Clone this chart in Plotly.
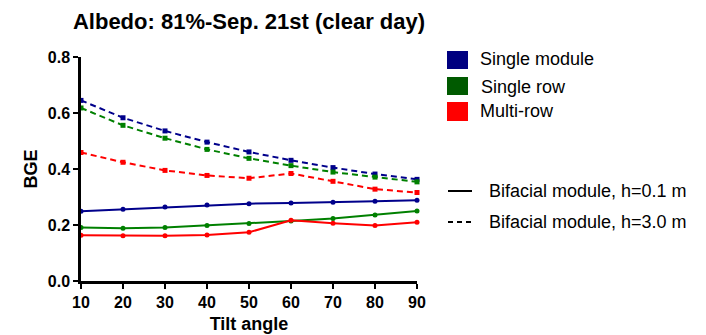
import plotly.graph_objects as go

tilt = [10, 20, 30, 40, 50, 60, 70, 80, 90]

single_module_h01 = [0.249, 0.256, 0.264, 0.271, 0.276, 0.279, 0.281, 0.285, 0.288]
single_row_h01 = [0.191, 0.188, 0.191, 0.198, 0.205, 0.214, 0.223, 0.236, 0.250]
multi_row_h01 = [0.163, 0.162, 0.162, 0.164, 0.174, 0.217, 0.206, 0.198, 0.210]

single_module_h30 = [0.645, 0.583, 0.536, 0.496, 0.461, 0.431, 0.405, 0.382, 0.363]
single_row_h30 = [0.618, 0.556, 0.510, 0.470, 0.438, 0.412, 0.389, 0.371, 0.354]
multi_row_h30 = [0.459, 0.424, 0.395, 0.377, 0.367, 0.384, 0.356, 0.328, 0.316]

series_names = ["Single module", "Single row", "Multi-row"]
line_colors = ["#00008B", "#008000", "#FF0000"]
patch_colors = ["#000080", "#005A00", "#FF0000"]
style_labels = ["Bifacial module, h=0.1 m", "Bifacial module, h=3.0 m"]

W, H = 706, 335
L, R, T, B = 81, 417, 57, 281
FONT = "Liberation Sans, Arial"

fig = go.Figure()
solid = [single_module_h01, single_row_h01, multi_row_h01]
dashed = [single_module_h30, single_row_h30, multi_row_h30]
for vals, col in zip(solid, line_colors):
    fig.add_trace(go.Scatter(x=tilt, y=vals, mode="lines+markers",
                             line=dict(color=col, width=2),
                             marker=dict(symbol="circle", size=5, color=col),
                             cliponaxis=False, showlegend=False))
for vals, col in zip(dashed, line_colors):
    fig.add_trace(go.Scatter(x=tilt, y=vals, mode="lines+markers",
                             line=dict(color=col, width=2, dash="6px,4px"),
                             marker=dict(symbol="square", size=5, color=col),
                             cliponaxis=False, showlegend=False))


def px_x(px):
    return (px - L) / (R - L)


def px_y(py):
    return (B - py) / (B - T)


shapes = []
annotations = []
patch_y = [(51, 69), (77, 95), (102, 121)]
text_y = [59, 87, 111]
text_x = [478, 479, 478]
for name, col, (y0, y1), ty, tx in zip(series_names, patch_colors, patch_y, text_y, text_x):
    shapes.append(dict(type="rect", xref="paper", yref="paper",
                       x0=px_x(447), x1=px_x(468), y0=px_y(y1), y1=px_y(y0),
                       fillcolor=col, line=dict(width=0)))
    annotations.append(dict(text=name, xref="paper", yref="paper",
                            x=px_x(tx), y=px_y(ty), xanchor="left", yanchor="middle",
                            showarrow=False,
                            font=dict(family=FONT, size=18, color="black")))

for lab, dash, ly in zip(style_labels, ["solid", "5px,4px"], [191, 222]):
    shapes.append(dict(type="line", xref="paper", yref="paper",
                       x0=px_x(448), x1=px_x(472), y0=px_y(ly), y1=px_y(ly),
                       line=dict(color="black", width=2, dash=dash)))
    annotations.append(dict(text=lab, xref="paper", yref="paper",
                            x=px_x(487), y=px_y(ly), xanchor="left", yanchor="middle",
                            showarrow=False,
                            font=dict(family=FONT, size=18, color="black")))

fig.update_layout(
    width=W, height=H,
    margin=dict(l=L, r=W - R, t=T, b=H - B, autoexpand=False),
    paper_bgcolor="white", plot_bgcolor="white",
    title=dict(text="<b>Albedo: 81%-Sep. 21st (clear day)</b>",
               x=(L + R) / 2 / W, xanchor="center", xref="container",
               y=1 - 21 / H, yanchor="middle", yref="container",
               font=dict(family=FONT, size=22, color="black")),
    shapes=shapes, annotations=annotations,
    showlegend=False,
)
fig.update_xaxes(range=[10, 90], tickvals=tilt, ticks="outside", ticklen=5, tickwidth=2,
                 tickcolor="black", showline=True, linecolor="black", linewidth=2.5,
                 showgrid=False, zeroline=False, automargin=False,
                 tickfont=dict(family=FONT, size=16, color="black", weight="bold"),
                 title=dict(text="<b>Tilt angle</b>", standoff=8,
                            font=dict(family=FONT, size=18, color="black")))
fig.update_yaxes(range=[0, 0.8], tickvals=[0, 0.2, 0.4, 0.6, 0.8], tickformat=".1f",
                 ticks="outside", ticklen=5, tickwidth=2,
                 tickcolor="black", showline=True, linecolor="black", linewidth=2.5,
                 showgrid=False, zeroline=False, automargin=False,
                 tickfont=dict(family=FONT, size=16, color="black", weight="bold"),
                 title=dict(text="<b>BGE</b>", standoff=6,
                            font=dict(family=FONT, size=18, color="black")))

fig.write_html("out.html")
